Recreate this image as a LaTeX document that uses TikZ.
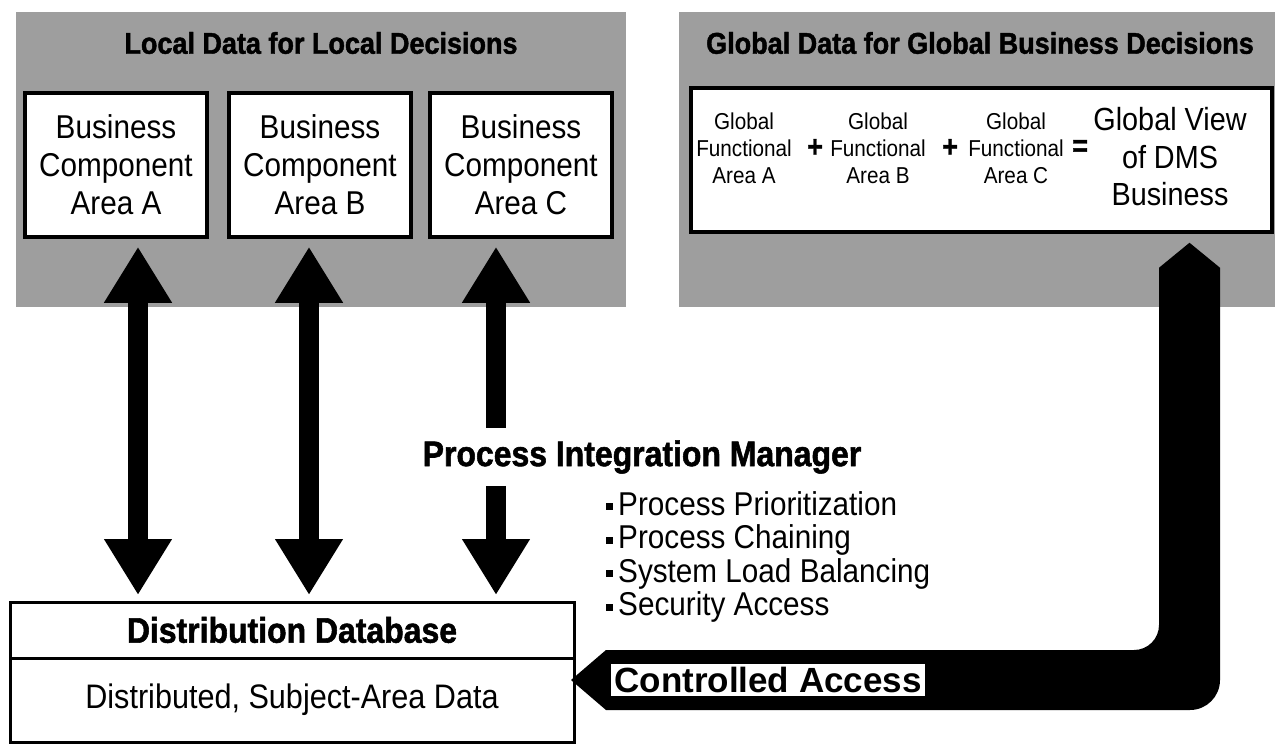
\documentclass[tikz,border=0pt]{standalone}
\usepackage{fontspec}
\setmainfont{Liberation Sans}
\newfontfamily\narrowfont[FakeStretch=0.9]{Liberation Sans}
\newfontfamily\headfont[FakeStretch=0.9,FakeBold=1.5]{Liberation Sans Bold}
\newfontfamily\cafont{Liberation Sans Bold}
\usepackage{tikz}
\usetikzlibrary{arrows.meta,positioning,calc}
\newcommand{\taskmark}{\rule[5pt]{7pt}{7pt}\hspace{5pt}}

\begin{document}
\begin{tikzpicture}[x=1pt, y=-1pt,
    panel/.style={fill=black!38},
    titletext/.style={font=\headfont\fontsize{30}{32}\selectfont, inner sep=0pt},
    areabox/.style={draw, line width=3.5pt, fill=white, minimum width=182pt, minimum height=144pt, align=center, inner sep=0pt, font=\narrowfont\fontsize{33}{38}\selectfont},
    globalbox/.style={draw, line width=3.5pt, fill=white, minimum width=581pt, minimum height=144pt, inner sep=0pt},
    fatext/.style={align=center, inner sep=0pt, font=\narrowfont\fontsize{23}{27}\selectfont},
    opsign/.style={inner sep=0pt, font=\headfont\fontsize{30}{32}\selectfont},
    viewtext/.style={align=center, inner sep=0pt, font=\narrowfont\fontsize{32}{37.5}\selectfont},
    bigtitle/.style={inner xsep=0pt, inner ysep=12pt, font=\headfont\fontsize{35.5}{38}\selectfont},
    dbhead/.style={draw, line width=3pt, fill=white, minimum width=564pt, minimum height=56pt, outer sep=0pt, inner sep=0pt, font=\headfont\fontsize{35.5}{38}\selectfont},
    dbbody/.style={draw, line width=3pt, fill=white, minimum width=564pt, minimum height=84pt, outer sep=0pt, inner sep=0pt, font=\narrowfont\fontsize{34}{38}\selectfont},
    tasks/.style={align=left, inner sep=0pt, font=\narrowfont\fontsize{33}{33.5}\selectfont},
    calabel/.style={fill=white, inner sep=3pt, font=\cafont\fontsize{35}{38}\selectfont},
    bothways/.style={line width=20pt, {Triangle[width=64pt,length=56pt]}-{Triangle[width=64pt,length=56pt]}},
    upways/.style={line width=20pt, {Triangle[width=64pt,length=56pt]}-},
    downways/.style={line width=20pt, -{Triangle[width=64pt,length=56pt]}}
]
    \useasboundingbox (0,0) rectangle (1275,745);

    % shaded panels
    \fill[panel] (16,12) rectangle (626,307);
    \fill[panel] (679,12) rectangle (1275,307);
    \node[titletext] (localtitle) at (321,43) {Local Data for Local Decisions};
    \node[titletext] (globaltitle) at (980,43) {Global Data for Global Business Decisions};

    % local areas
    \node[areabox] (areaA) at (116,165) {Business\\Component\\Area A};
    \node[areabox] (areaB) at (320,165) {Business\\Component\\Area B};
    \node[areabox] (areaC) at (521,165) {Business\\Component\\Area C};

    % global view
    \node[globalbox] (gbox) at (981.5,160) {};
    \node[fatext] (faA) at (744,148) {Global\\Functional\\Area A};
    \node[opsign] (plusA) at (815,148) {+};
    \node[fatext] (faB) at (878,148) {Global\\Functional\\Area B};
    \node[opsign] (plusB) at (950,148) {+};
    \node[fatext] (faC) at (1016,148) {Global\\Functional\\Area C};
    \node[opsign] (equal) at (1080,148) {=};
    \node[viewtext] (gview) at (1170,157) {Global View\\of DMS\\Business};

    % database
    \node[dbhead] (db) at (292,630) {Distribution Database};
    \node[dbbody, below=0pt of db] (dbdata) {Distributed, Subject-Area Data};

    % integration manager
    \node[bigtitle] (pim) at (642,457) {Process Integration Manager};
    \node[tasks, anchor=north west] (tasklist) at (606,491) {\taskmark Process Prioritization\\
        \taskmark Process Chaining\\
        \taskmark System Load Balancing\\
        \taskmark Security Access};

    % arrows
    \coordinate (aTop) at ([xshift=22pt]areaA.south);
    \coordinate (bTop) at ([xshift=-11pt]areaB.south);
    \coordinate (cTop) at ([xshift=-25pt]areaC.south);
    \draw[bothways, shorten <=8pt, shorten >=7pt] (aTop) -- (aTop |- db.north);
    \draw[bothways, shorten <=8pt, shorten >=7pt] (bTop) -- (bTop |- db.north);
    \draw[upways, shorten <=8pt] (cTop) -- (cTop |- pim.north);
    \draw[downways, shorten >=7pt] (cTop |- pim.south) -- (cTop |- db.north);

    % controlled access
    \coordinate (ctop) at ([xshift=208pt,yshift=-9pt]gbox.south);
    \coordinate (cend) at ([xshift=-3pt,yshift=-22pt]dbdata.north east);
    \fill (ctop) -- ($(ctop)+(30.5,25)$) -- ($(ctop |- cend)+(30.5,0)$)
        arc[start angle=0, end angle=-90, radius=30pt] -- ($(cend)+(35,30)$)
        -- (cend) -- ($(cend)+(35,-30)$) -- ($(ctop |- cend)+(-55.5,-30)$)
        arc[start angle=-90, end angle=0, radius=25pt] -- ($(ctop)+(-30.5,25)$) -- cycle;
    \node[calabel] (ca) at ($(cend)+(197,0)$) {Controlled Access};
\end{tikzpicture}
\end{document}
